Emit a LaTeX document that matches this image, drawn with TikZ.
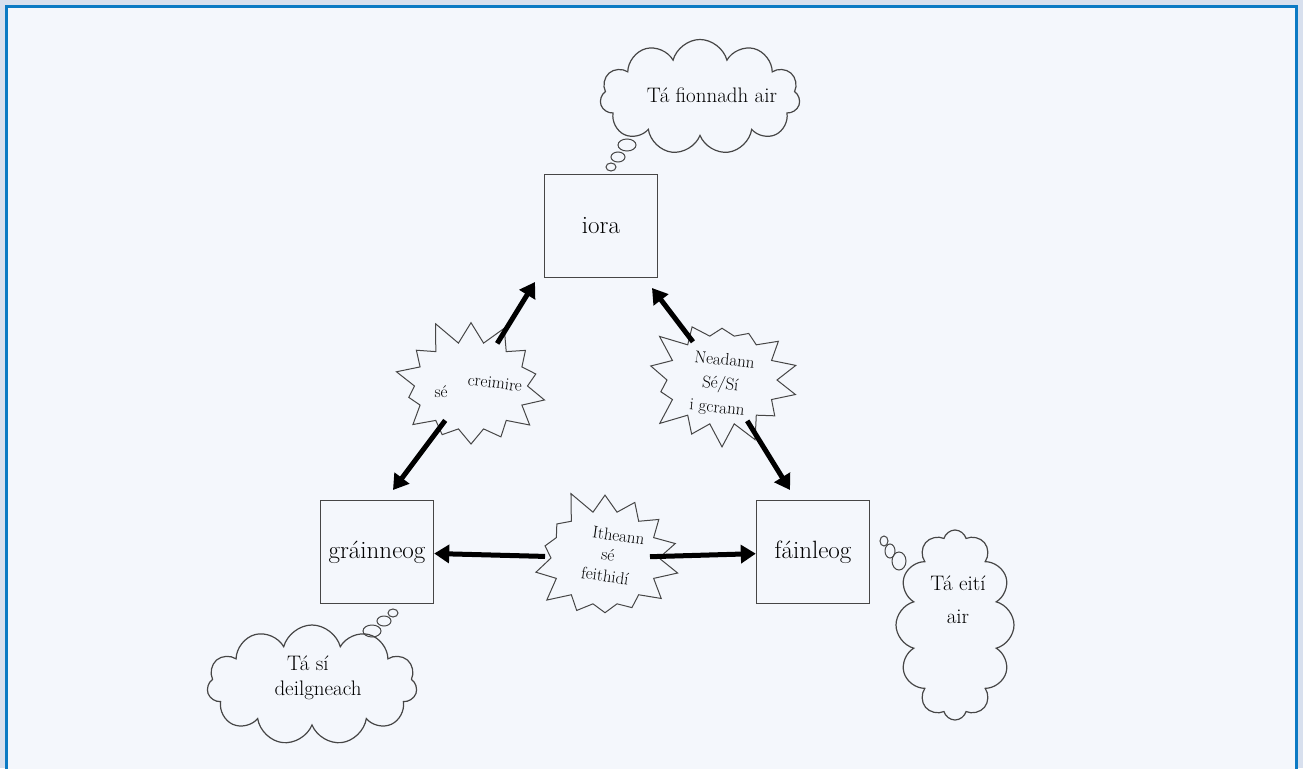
\documentclass[tikz,border=0pt]{standalone}
\usepackage{amsmath}
\usepackage{xcolor}
\usetikzlibrary{shapes.symbols,arrows.meta}
\definecolor{pagebg}{RGB}{216,224,238}
\definecolor{framebl}{RGB}{12,122,196}
\definecolor{sheet}{RGB}{244,247,252}
\definecolor{pencil}{RGB}{70,70,70}

\begin{document}
\begin{tikzpicture}[x=1pt,y=-1pt,
    animal/.style={draw=pencil,line width=1.4pt,minimum width=113pt,minimum height=103pt,font=\fontsize{25}{27}\selectfont},
    burst/.style={starburst,draw=pencil,line width=1pt,starburst points=14,starburst point height=26pt,inner sep=0pt},
    thought/.style={cloud,draw=pencil,line width=1.2pt,cloud puffs=11,cloud ignores aspect,inner sep=0pt},
    bubble/.style={draw=pencil,line width=1pt},
    hand/.style={font=\fontsize{21}{23}\selectfont,align=left,inner sep=0pt},
    small hand/.style={font=\fontsize{17}{19}\selectfont,align=left,inner sep=0pt},
    link/.style={line width=5pt,-{Triangle[length=15pt,width=18pt]}}]
            \useasboundingbox (0,0) rectangle (1303,768);
            % sheet and frame
            \fill[pagebg] (0,0) rectangle (1303,768);
            \filldraw[fill=sheet,draw=framebl,line width=3pt] (6.5,6.5) rectangle (1296.5,790);

            % the three animals
            \node[animal] (iora) at (601,226) {iora};
            \node[animal] (grain) at (377,552) {gráinneog};
            \node[animal] (fain) at (813,552) {fáinleog};

            % arrow tips
            \coordinate (tipA) at (535,282);
            \coordinate (tipB) at (393,490);
            \coordinate (tipC) at (652,288);
            \coordinate (tipD) at (790,490);

            % what they share
            \node[burst,minimum width=165pt,minimum height=140pt,random starburst=11] (sbLeft) at (471,386) {};
            \node[burst,minimum width=162pt,minimum height=142pt,random starburst=23] (sbRight) at (722,380) {};
            \node[burst,minimum width=160pt,minimum height=146pt,random starburst=5] (sbBottom) at (605,558) {};

            \draw[link,shorten <=50pt] (sbLeft.center) -- (tipA);
            \draw[link,shorten <=43pt] (sbLeft.center) -- (tipB);
            \draw[link,shorten <=48pt] (sbRight.center) -- (tipC);
            \draw[link,shorten <=48pt] (sbRight.center) -- (tipD);
            \draw[link,shorten <=60pt] (sbBottom.center) -- (grain);
            \draw[link,shorten <=45pt] (sbBottom.center) -- (fain);

            \node[small hand,rotate=-7] (crLabel) at (495,383) {creimire};
            \node[small hand] (seLabel) at (441,392) {sé};
            \node[small hand,rotate=-6] (neadLabel) at (722,385) {Neadann\\[5pt]\ \ Sé/Sí\\[5pt]i gcrann};
            \node[small hand,rotate=-8,align=center] (ithLabel) at (608,555) {\ \ \ Itheann\\[2pt]sé\\[2pt]feithidí};

            % thought clouds
            \node[thought,minimum width=200pt,minimum height=115pt] (cloudTop) at (700,97) {};
            \node[thought,minimum width=210pt,minimum height=120pt] (cloudLeft) at (312,685) {};
            \node[thought,minimum width=118pt,minimum height=190pt,cloud puffs=12] (cloudRight) at (955,625) {};

            \draw[bubble] (627,145) ellipse (9pt and 6pt);
            \draw[bubble] (618,157) ellipse (7pt and 5pt);
            \draw[bubble] (611,167) ellipse (5pt and 4pt);

            \draw[bubble] (372,631) ellipse (9pt and 6pt);
            \draw[bubble] (384,621) ellipse (7pt and 5pt);
            \draw[bubble] (393,613) ellipse (5pt and 4pt);

            \draw[bubble] (899,561) ellipse (7pt and 9pt);
            \draw[bubble] (890,551) ellipse (5pt and 7pt);
            \draw[bubble] (884,541) ellipse (4pt and 5pt);

            \node[hand] (furText) at (712,95) {Tá fionnadh air};
            \node[hand] (spikeText) at (318,678) {\ \ Tá sí\\[2pt]deilgneach};
            \node[hand,align=center] (wingText) at (958,600) {Tá eití\\[10pt]air};
        \end{tikzpicture}
\end{document}
